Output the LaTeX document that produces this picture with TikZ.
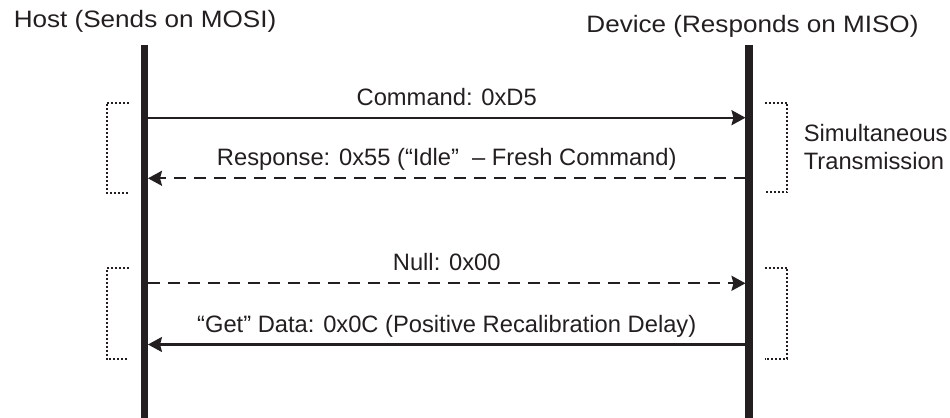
\documentclass[tikz,border=0pt]{standalone}
\usepackage{fontspec}
\setmainfont{Liberation Sans}
\newfontfamily\titlefont[FakeStretch=1.1]{Liberation Sans}
\usetikzlibrary{arrows.meta}
\definecolor{inkblack}{HTML}{231F20}

\tikzset{
  lifeline/.style={line width=0.145cm, inkblack},
  msg/.style={line width=0.045cm, inkblack, -{Stealth[length=0.28cm,width=0.3cm,inset=0.04cm]}},
  reply/.style={msg, dash pattern=on 0.24cm off 0.16cm},
  lbl/.style={anchor=base, yshift=0.25cm, inner sep=0pt, text=inkblack,
    font=\fontsize{13.5pt}{15.4pt}\selectfont},
  ttl/.style={anchor=base, inner sep=0pt, text=inkblack,
    font=\titlefont\fontsize{13.5pt}{15.4pt}\selectfont},
  bracket/.style={line width=0.04cm, inkblack, dash pattern=on 0.04cm off 0.04cm},
}

\begin{document}
\begin{tikzpicture}[x=0.02cm, y=-0.02cm]
  \useasboundingbox (0,0) rectangle (950,418);

  % participants
  \node[ttl] (host) at (145,27.3) {Host (Sends on MOSI)};
  \node[ttl] (device) at (752.5,32.3) {Device (Responds on MISO)};

  \coordinate (hostTop) at (144.5,45);
  \coordinate (hostBot) at (144.5,418);
  \coordinate (devTop) at (749,45);
  \coordinate (devBot) at (749,418);
  \draw[lifeline] (hostTop) -- (hostBot);
  \draw[lifeline] (devTop) -- (devBot);

  % points on the lifelines
  \coordinate (h1) at (148,117.7);  \coordinate (d1) at (745.5,117.7);
  \coordinate (h2) at (148,178.3);  \coordinate (d2) at (745.5,178.3);
  \coordinate (h3) at (148,283.3);  \coordinate (d3) at (745.5,283.3);
  \coordinate (h4) at (148,344.5);  \coordinate (d4) at (745.5,344.5);

  % first exchange
  \draw[msg] (h1) -- (d1) node[lbl, midway] (cmd) {Command: 0xD5};
  \draw[reply] (d2) -- (h2) node[lbl, midway] (resp) {Response: 0x55 (“Idle”~~– Fresh Command)};

  % second exchange
  \draw[reply] (h3) -- (d3) node[lbl, midway] (null) {Null: 0x00};
  \draw[msg] (d4) -- (h4) node[lbl, midway] (data) {“Get” Data: 0x0C (Positive Recalibration Delay)};

  % brackets
  \draw[bracket] (129.3,102.7) -| (106.7,192.7) -- (129.3,192.7);
  \draw[bracket] (129.3,268.3) -| (106.7,359) -- (129.3,359);
  \draw[bracket] (764.5,102.7) -| (787.3,192.2) -- (764.5,192.2);
  \draw[bracket] (764.5,268.3) -| (787.3,359) -- (764.5,359);

  \node[anchor=west, align=left, inner sep=0pt, text=inkblack,
    font=\fontsize{13.5pt}{15.4pt}\selectfont] (simul) at (803.5,147)
    {Simultaneous\\Transmission};
\end{tikzpicture}
\end{document}
